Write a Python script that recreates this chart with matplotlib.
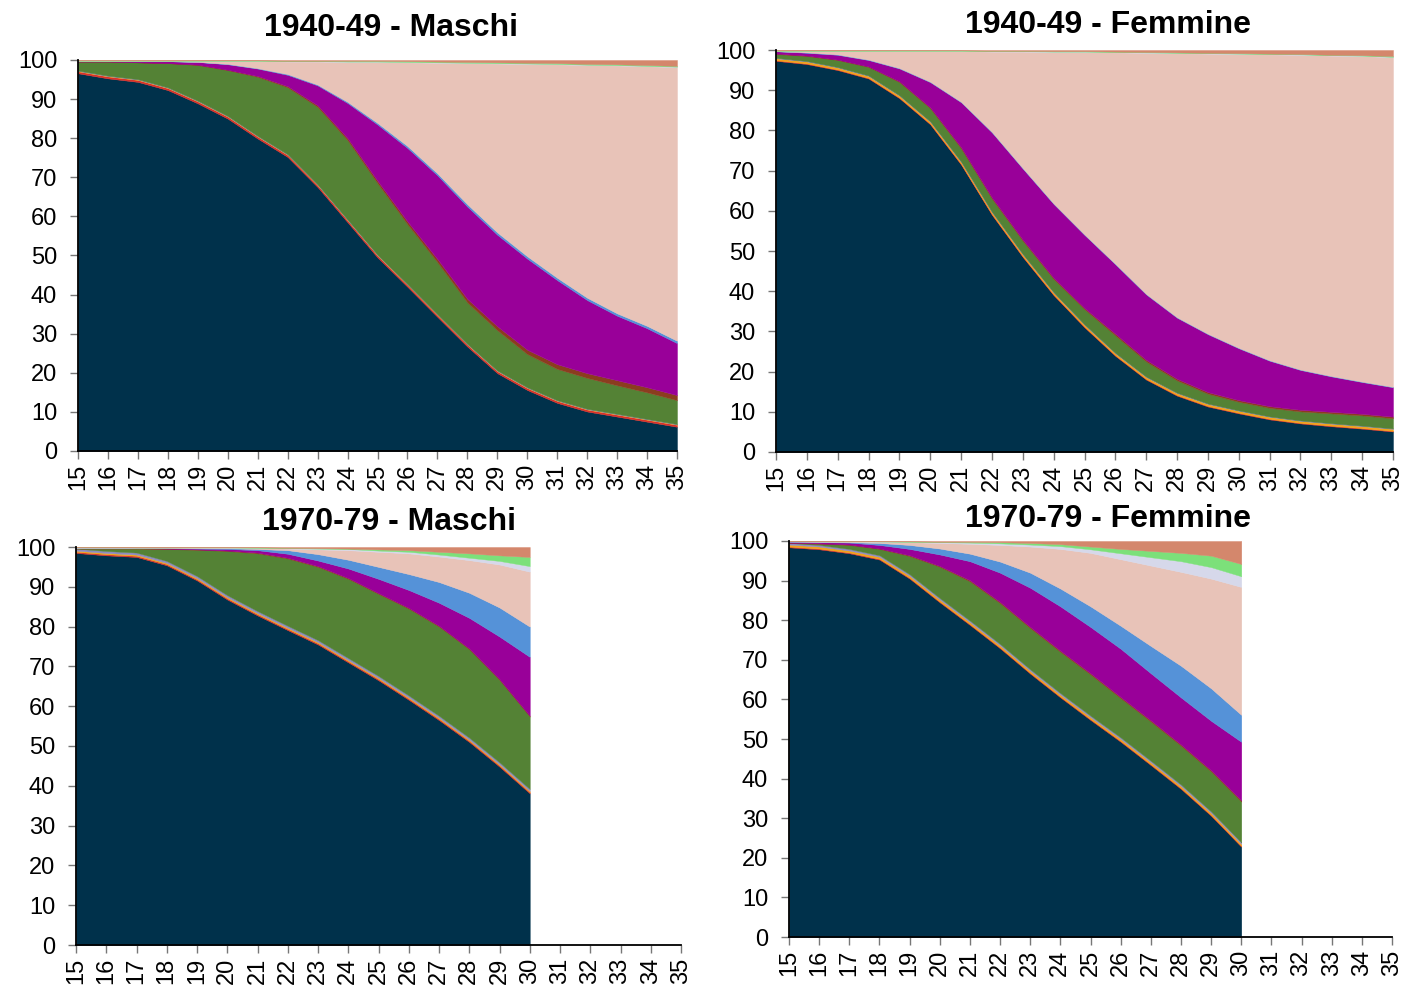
import numpy
import matplotlib
matplotlib.use('Agg')
import matplotlib.pyplot as plt

plt.rcParams['font.family'] = ['Liberation Sans', 'DejaVu Sans']

ages_full = list(range(15, 36))
ages_short = list(range(15, 31))

# upper edge (cumulative %) of each state, per age
# 1940-49 - Maschi
m40_navy = [96.6, 95.3, 94.4, 92.3, 88.9, 85.0, 79.9, 75.2, 67.5, 58.5, 49.5,
            42.0, 34.3, 26.7, 19.9, 15.6, 12.3, 10.1, 8.8, 7.5, 6.2]
m40_green = [99.6, 99.6, 99.4, 99.2, 98.7, 97.4, 95.7, 93.0, 88.0, 79.5, 68.5,
             58.0, 48.3, 38.0, 30.9, 24.8, 21.0, 18.7, 16.8, 15.0, 13.0]
m40_purple = [99.7, 99.7, 99.7, 99.7, 99.5, 98.9, 97.8, 96.2, 93.5, 89.0, 83.5,
              77.5, 70.5, 62.5, 55.3, 49.2, 43.7, 38.6, 34.6, 31.4, 27.6]
m40_blue = [99.7, 99.7, 99.7, 99.7, 99.5, 99.0, 97.9, 96.4, 93.7, 89.3, 83.9,
            78.0, 71.0, 63.1, 55.9, 49.8, 44.3, 39.2, 35.2, 32.0, 28.2]
m40_pink = [99.8, 99.8, 99.8, 99.8, 99.8, 99.7, 99.7, 99.6, 99.6, 99.5, 99.5,
            99.4, 99.3, 99.2, 99.1, 99.0, 98.9, 98.7, 98.6, 98.4, 98.2]
m40_lav = [99.8, 99.8, 99.8, 99.8, 99.8, 99.8, 99.8, 99.7, 99.7, 99.6, 99.6,
           99.5, 99.4, 99.3, 99.2, 99.1, 99.0, 98.8, 98.7, 98.5, 98.3]
m40_lgreen = [99.9, 99.9, 99.9, 99.9, 99.9, 99.9, 99.9, 99.8, 99.8, 99.8, 99.8,
              99.7, 99.6, 99.5, 99.4, 99.3, 99.2, 99.0, 98.9, 98.7, 98.5]
# widths of the thin bands: red, orange, grey above navy; brown above green
m40_thin = [0.5, 0.1, 0.1]
m40_brown = [0.0, 0.0, 0.0, 0.0, 0.1, 0.1, 0.2, 0.3, 0.4, 0.5, 0.6,
             0.7, 0.8, 0.9, 1.0, 1.1, 1.2, 1.2, 1.3, 1.3, 1.3]

# 1940-49 - Femmine
f40_navy = [97.3, 96.5, 95.0, 92.9, 88.0, 81.5, 71.5, 59.0, 48.5, 39.0, 31.0,
            23.9, 18.0, 14.0, 11.3, 9.6, 8.1, 7.1, 6.4, 5.8, 5.1]
f40_green = [99.0, 98.5, 97.5, 95.8, 92.0, 85.5, 75.5, 63.0, 52.5, 43.0, 35.5,
             29.0, 22.5, 17.8, 14.5, 12.5, 11.0, 10.1, 9.6, 9.1, 8.4]
f40_purple = [99.7, 99.3, 98.8, 97.5, 95.4, 92.0, 87.0, 79.5, 70.5, 61.7, 54.0,
              46.7, 39.2, 33.4, 29.3, 25.8, 22.7, 20.4, 18.8, 17.4, 16.1]
f40_blue = [99.7, 99.4, 98.9, 97.6, 95.5, 92.1, 87.1, 79.6, 70.6, 61.8, 54.1,
            46.8, 39.3, 33.5, 29.4, 25.9, 22.8, 20.5, 18.9, 17.5, 16.2]
f40_pink = [99.8, 99.8, 99.8, 99.8, 99.7, 99.7, 99.7, 99.6, 99.6, 99.5, 99.5,
            99.4, 99.3, 99.2, 99.1, 99.0, 98.9, 98.8, 98.6, 98.5, 98.2]
f40_lav = [99.8, 99.8, 99.8, 99.8, 99.8, 99.8, 99.8, 99.7, 99.7, 99.6, 99.6,
           99.5, 99.4, 99.3, 99.2, 99.1, 99.0, 98.9, 98.7, 98.6, 98.3]
f40_lgreen = [99.9, 99.9, 99.9, 99.9, 99.9, 99.9, 99.9, 99.8, 99.8, 99.7, 99.7,
              99.6, 99.5, 99.4, 99.3, 99.2, 99.1, 99.0, 98.8, 98.7, 98.5]
f40_thin = [0.15, 0.5, 0.1]
f40_brown = [0.1, 0.1, 0.1, 0.1, 0.2, 0.2, 0.3, 0.3, 0.3, 0.3, 0.3,
             0.4, 0.4, 0.4, 0.4, 0.4, 0.4, 0.4, 0.4, 0.4, 0.4]

# 1970-79 - Maschi
m70_navy = [98.5, 97.9, 97.5, 95.4, 91.6, 86.8, 82.8, 79.1, 75.5, 71.0, 66.5,
            61.6, 56.5, 51.0, 44.8, 38.1]
m70_green = [99.6, 99.6, 99.6, 99.5, 99.3, 99.0, 98.4, 97.1, 95.0, 92.0, 88.2,
             84.5, 80.0, 74.3, 66.6, 57.4]
m70_purple = [99.7, 99.7, 99.7, 99.7, 99.6, 99.5, 99.2, 98.3, 96.6, 94.6, 92.0,
              89.2, 86.0, 82.2, 77.5, 72.4]
m70_blue = [99.8, 99.8, 99.8, 99.8, 99.7, 99.7, 99.5, 99.2, 98.2, 96.8, 95.0,
            93.2, 91.2, 88.5, 84.8, 80.0]
m70_pink = [99.9, 99.9, 99.9, 99.9, 99.8, 99.8, 99.7, 99.6, 99.4, 99.2, 98.8,
            98.4, 97.6, 96.7, 95.6, 93.8]
m70_lav = [99.9, 99.9, 99.9, 99.9, 99.9, 99.9, 99.8, 99.7, 99.6, 99.5, 99.1,
           98.8, 98.1, 97.3, 96.5, 95.2]
m70_lgreen = [100.0, 100.0, 99.9, 99.9, 99.9, 99.9, 99.9, 99.8, 99.7, 99.6, 99.4,
              99.2, 98.8, 98.4, 97.9, 97.5]
m70_thin = [0.3, 0.3, 0.5]
m70_brown = [0.1, 0.1, 0.1, 0.1, 0.1, 0.1, 0.2, 0.2, 0.2, 0.2, 0.2,
             0.2, 0.2, 0.2, 0.2, 0.2]

# 1970-79 - Femmine
f70_navy = [98.4, 97.9, 96.9, 95.3, 90.5, 84.5, 78.8, 72.9, 66.5, 60.5, 54.8,
            49.3, 43.4, 37.4, 30.6, 22.8]
f70_green = [99.5, 99.3, 99.0, 98.0, 96.2, 93.5, 89.8, 84.3, 78.0, 72.0, 66.3,
             60.3, 54.4, 48.3, 41.8, 34.2]
f70_purple = [99.8, 99.7, 99.6, 99.0, 98.0, 96.6, 94.9, 92.0, 88.2, 83.5, 78.3,
              72.8, 66.6, 60.5, 54.6, 49.3]
f70_blue = [99.9, 99.8, 99.7, 99.5, 99.0, 98.1, 96.8, 94.8, 92.0, 88.0, 83.5,
            78.6, 73.5, 68.5, 62.8, 56.1]
f70_pink = [99.9, 99.9, 99.9, 99.8, 99.7, 99.5, 99.3, 99.0, 98.6, 98.0, 97.0,
            95.4, 93.8, 92.2, 90.5, 88.4]
f70_lav = [100.0, 99.9, 99.9, 99.9, 99.8, 99.7, 99.6, 99.4, 99.1, 98.7, 97.9,
           96.9, 95.9, 94.9, 93.4, 91.1]
f70_lgreen = [100.0, 100.0, 100.0, 99.9, 99.9, 99.8, 99.8, 99.7, 99.5, 99.2, 98.6,
              98.0, 97.5, 97.0, 96.3, 94.2]
f70_thin = [0.2, 0.5, 0.4]
f70_brown = [0.1, 0.1, 0.1, 0.1, 0.2, 0.2, 0.3, 0.3, 0.3, 0.3, 0.3,
             0.3, 0.3, 0.3, 0.3, 0.3]

colors = ['#00314b', '#d8302a', '#f2a31b', '#8c8cc0', '#548235', '#8b3d1f',
          '#990099', '#5592d8', '#e8c3b8', '#d6d8ea', '#7ce07a', '#d4876c']


def edges(navy, thin, green, brown, purple, blue, pink, lav, lgreen):
    navy = numpy.array(navy)
    rows = [numpy.zeros_like(navy), navy]
    for w in thin:
        rows.append(rows[-1] + w)
    rows.append(numpy.array(green))
    rows.append(rows[-1] + numpy.array(brown))
    for top in (purple, blue, pink, lav, lgreen):
        rows.append(numpy.array(top))
    rows.append(numpy.full_like(navy, 100.0))
    return numpy.maximum.accumulate(numpy.array(rows), axis=0)


panels = [
    ('1940-49 - Maschi', ages_full,
     edges(m40_navy, m40_thin, m40_green, m40_brown, m40_purple, m40_blue, m40_pink, m40_lav, m40_lgreen),
     [78, 60, 677, 451], (391, 28)),
    ('1940-49 - Femmine', ages_full,
     edges(f40_navy, f40_thin, f40_green, f40_brown, f40_purple, f40_blue, f40_pink, f40_lav, f40_lgreen),
     [776, 50, 1393, 452], (1108, 25)),
    ('1970-79 - Maschi', ages_short,
     edges(m70_navy, m70_thin, m70_green, m70_brown, m70_purple, m70_blue, m70_pink, m70_lav, m70_lgreen),
     [76, 547, 681, 945], (389, 522)),
    ('1970-79 - Femmine', ages_short,
     edges(f70_navy, f70_thin, f70_green, f70_brown, f70_purple, f70_blue, f70_pink, f70_lav, f70_lgreen),
     [789, 541, 1392, 937], (1108, 519)),
]

W, H = 1404, 990
fig = plt.figure(figsize=(W / 100, H / 100), dpi=100)

for title, ages, cum, (x0, y0, x1, y1), (tx, ty) in panels:
    ax = fig.add_axes([x0 / W, 1 - y1 / H, (x1 - x0) / W, (y1 - y0) / H])
    for k in range(len(cum) - 1):
        ax.fill_between(ages, cum[k], cum[k + 1], facecolor=colors[k],
                        edgecolor=colors[k], linewidth=0.3)
    ax.set_xlim(15, 35)
    ax.set_ylim(0, 100)
    ax.set_xticks(range(15, 36))
    ax.set_yticks(range(0, 101, 10))
    for side in ('top', 'right'):
        ax.spines[side].set_visible(False)
    for side in ('left', 'bottom'):
        ax.spines[side].set_linewidth(1.3)
    ax.tick_params(axis='x', labelrotation=90, length=6, width=1, color='#777777',
                   pad=3, labelsize=17)
    ax.tick_params(axis='y', length=6, width=1, color='#777777', pad=9, labelsize=17)
    fig.text(tx / W, 1 - ty / H, title, ha='center', va='center',
             fontsize=23, fontweight='bold')

fig.savefig('out.png', dpi=100)
